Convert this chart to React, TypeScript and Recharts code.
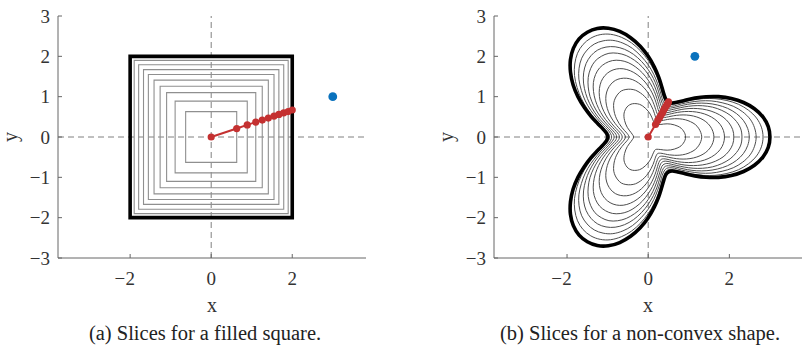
import React from 'react';
import { ScatterChart, Scatter, XAxis, YAxis, ReferenceLine, Label } from 'recharts';

// shared axis ticks
const ticksX = [-2, 0, 2];
const ticksY = [-3, -2, -1, 0, 1, 2, 3];

// (a) square slices: half-widths of the nested squares, outer boundary last
const squareHalfWidths = [0.63, 0.89, 1.1, 1.26, 1.41, 1.55, 1.67, 1.79, 1.9];
const squareBoundaryHalfWidth = 2;
// path from the origin through each slice toward the query point
const squarePathX = [0, 0.63, 0.89, 1.1, 1.26, 1.41, 1.55, 1.67, 1.79, 1.9, 2.0];
const squarePathY = [0, 0.21, 0.3, 0.37, 0.42, 0.47, 0.52, 0.56, 0.6, 0.63, 0.67];
const squareQuery = [{ x: 3, y: 1 }];

// (b) three-lobed shape: radius at these angles (deg) over one half-lobe,
// the rest follows from the shape's mirror / 120deg symmetry
const lobeAngles = [0, 5, 10, 15, 20, 25, 30, 35, 40, 45, 50, 55, 60];
const shapeSliceRadii = [
  [0.92, 0.91, 0.88, 0.84, 0.78, 0.71, 0.64, 0.57, 0.5, 0.44, 0.4, 0.37, 0.36],
  [1.32, 1.3, 1.26, 1.2, 1.11, 1.01, 0.9, 0.79, 0.69, 0.6, 0.53, 0.49, 0.47],
  [1.62, 1.6, 1.55, 1.47, 1.36, 1.23, 1.09, 0.95, 0.82, 0.71, 0.63, 0.58, 0.56],
  [1.88, 1.86, 1.8, 1.7, 1.57, 1.42, 1.26, 1.1, 0.95, 0.82, 0.72, 0.66, 0.64],
  [2.11, 2.09, 2.02, 1.91, 1.76, 1.59, 1.41, 1.23, 1.06, 0.91, 0.8, 0.73, 0.71],
  [2.31, 2.29, 2.21, 2.09, 1.93, 1.75, 1.55, 1.35, 1.16, 1.0, 0.88, 0.8, 0.78],
  [2.49, 2.46, 2.38, 2.25, 2.08, 1.88, 1.67, 1.46, 1.26, 1.08, 0.95, 0.87, 0.84],
  [2.66, 2.63, 2.55, 2.41, 2.23, 2.01, 1.79, 1.56, 1.34, 1.16, 1.01, 0.93, 0.9],
  [2.83, 2.8, 2.71, 2.56, 2.37, 2.14, 1.9, 1.66, 1.43, 1.23, 1.08, 0.98, 0.95],
];
const shapeBoundaryRadii = [3.0, 2.97, 2.87, 2.71, 2.5, 2.26, 2.0, 1.74, 1.5, 1.29, 1.13, 1.03, 1.0];
const shapePathX = [0, 0.18, 0.235, 0.28, 0.32, 0.355, 0.39, 0.42, 0.45, 0.475, 0.5];
const shapePathY = [0, 0.31, 0.41, 0.48, 0.55, 0.61, 0.68, 0.73, 0.78, 0.82, 0.87];
const shapeQuery = [{ x: 1.15, y: 2.0 }];

const captions = ['(a) Slices for a filled square.', '(b) Slices for a non-convex shape.'];

const RED = '#c43131';
const BLUE = '#0a72bd';
const SERIF = "'Liberation Serif', 'DejaVu Serif', serif";

const zip = (xs: number[], ys: number[]) => xs.map((x, i) => ({ x, y: ys[i] }));

const squarePoints = (s: number) => [
  { x: -s, y: -s },
  { x: s, y: -s },
  { x: s, y: s },
  { x: -s, y: s },
];

const contourPoints = (radii: number[]) => {
  const pts: { x: number; y: number }[] = [];
  for (let a = 0; a < 360; a += 5) {
    let phi = a % 120;
    if (phi > 60) phi = 120 - phi;
    const r = radii[lobeAngles.indexOf(phi)];
    const t = (a * Math.PI) / 180;
    pts.push({ x: r * Math.cos(t), y: r * Math.sin(t) });
  }
  return pts;
};

// closed Catmull-Rom spline, used as a d3 curve factory
const smoothClosed: any = (context: any) => {
  let pts: number[][] = [];
  return {
    areaStart() {},
    areaEnd() {},
    lineStart() {
      pts = [];
    },
    point(x: number, y: number) {
      pts.push([+x, +y]);
    },
    lineEnd() {
      const n = pts.length;
      if (n < 3) return;
      context.moveTo(pts[0][0], pts[0][1]);
      for (let i = 0; i < n; i++) {
        const p0 = pts[(i + n - 1) % n];
        const p1 = pts[i];
        const p2 = pts[(i + 1) % n];
        const p3 = pts[(i + 2) % n];
        context.bezierCurveTo(
          p1[0] + (p2[0] - p0[0]) / 6,
          p1[1] + (p2[1] - p0[1]) / 6,
          p2[0] - (p3[0] - p1[0]) / 6,
          p2[1] - (p3[1] - p1[1]) / 6,
          p2[0],
          p2[1]
        );
      }
      context.closePath();
    },
  };
};

const noDot = () => <g />;
const redDot = (p: any) => <circle cx={p.cx} cy={p.cy} r={3.6} fill={RED} />;
const blueDot = (p: any) => <circle cx={p.cx} cy={p.cy} r={4.4} fill={BLUE} />;

const tickStyle = { fontFamily: SERIF, fontSize: 19, fill: '#333' };

const XTick = (props: any) => {
  const { x, y, payload } = props;
  const v = payload.value;
  return (
    <g>
      <text x={x} y={y} dy="0.71em" textAnchor="middle" style={tickStyle}>
        {Math.abs(v)}
      </text>
      {v < 0 && (
        <text x={x - 5} y={y} dy="0.71em" textAnchor="end" style={tickStyle}>
          −
        </text>
      )}
    </g>
  );
};

const fmtY = (v: number) => (v < 0 ? `−${-v}` : `${v}`);

const YLabel = (props: any) => {
  const { viewBox } = props;
  const cx = viewBox.x - 8;
  const cy = viewBox.y + viewBox.height / 2;
  return (
    <text
      x={cx}
      y={cy}
      transform={`rotate(-90 ${cx} ${cy})`}
      textAnchor="middle"
      dominantBaseline="central"
      style={{ fontFamily: SERIF, fontSize: 20, fill: '#333' }}
    >
      y
    </text>
  );
};

interface PanelProps {
  left: number;
  marginLeft: number;
  marginRight: number;
  domainX: [number, number];
  children: React.ReactNode;
}

const Panel = ({ left, marginLeft, marginRight, domainX, children }: PanelProps) => (
  <div style={{ position: 'absolute', left, top: 0 }}>
    <ScatterChart
      width={400}
      height={320}
      margin={{ top: 16, right: marginRight, bottom: 32, left: marginLeft }}
    >
      <XAxis
        type="number"
        dataKey="x"
        domain={domainX}
        ticks={ticksX}
        height={30}
        stroke="#666"
        tickSize={-4}
        tickMargin={18}
        tick={<XTick />}
        allowDataOverflow
      >
        <Label
          value="x"
          position="bottom"
          offset={10}
          style={{ fontFamily: SERIF, fontSize: 20, fill: '#333' }}
        />
      </XAxis>
      <YAxis
        type="number"
        dataKey="y"
        domain={[-3, 3]}
        ticks={ticksY}
        width={40}
        stroke="#666"
        tickSize={-4}
        tickMargin={12}
        tickFormatter={fmtY}
        tick={tickStyle}
        allowDataOverflow
      >
        <Label content={<YLabel />} />
      </YAxis>
      <ReferenceLine x={0} stroke="#808080" strokeDasharray="6 4" />
      <ReferenceLine y={0} stroke="#808080" strokeDasharray="6 4" />
      {children}
    </ScatterChart>
  </div>
);

export default function App() {
  return (
    <div
      style={{
        position: 'absolute',
        left: 0,
        top: 0,
        width: 803,
        height: 355,
        background: '#fff',
        overflow: 'hidden',
      }}
    >
      <Panel left={0} marginLeft={18} marginRight={34} domainX={[-3.78, 3.82]}>
        {squareHalfWidths.map((s, i) => (
          <Scatter
            key={`sq-${i}`}
            data={squarePoints(s)}
            line={{ stroke: '#8f8f8f', strokeWidth: 1.1 }}
            lineJointType="linearClosed"
            shape={noDot}
            isAnimationActive={false}
          />
        ))}
        <Scatter
          data={squarePoints(squareBoundaryHalfWidth)}
          line={{ stroke: '#000', strokeWidth: 3.6 }}
          lineJointType="linearClosed"
          shape={noDot}
          isAnimationActive={false}
        />
        <Scatter
          data={zip(squarePathX, squarePathY)}
          line={{ stroke: RED, strokeWidth: 2 }}
          shape={redDot}
          isAnimationActive={false}
        />
        <Scatter data={squareQuery} shape={blueDot} isAnimationActive={false} />
      </Panel>

      <Panel left={403} marginLeft={51} marginRight={1} domainX={[-3.8, 3.79]}>
        {shapeSliceRadii.map((radii, i) => (
          <Scatter
            key={`sl-${i}`}
            data={contourPoints(radii)}
            line={{ stroke: '#4d4d4d', strokeWidth: 1 }}
            lineJointType={smoothClosed}
            shape={noDot}
            isAnimationActive={false}
          />
        ))}
        <Scatter
          data={contourPoints(shapeBoundaryRadii)}
          line={{ stroke: '#000', strokeWidth: 3.6 }}
          lineJointType={smoothClosed}
          shape={noDot}
          isAnimationActive={false}
        />
        <Scatter
          data={zip(shapePathX, shapePathY)}
          line={{ stroke: RED, strokeWidth: 2 }}
          shape={redDot}
          isAnimationActive={false}
        />
        <Scatter data={shapeQuery} shape={blueDot} isAnimationActive={false} />
      </Panel>

      {captions.map((c, i) => (
        <div
          key={c}
          style={{
            position: 'absolute',
            left: i === 0 ? 5 : 440,
            width: 400,
            top: 322,
            textAlign: 'center',
            fontFamily: SERIF,
            fontSize: 20.5,
            color: '#222',
            lineHeight: '22px',
            whiteSpace: 'nowrap',
          }}
        >
          {c}
        </div>
      ))}
    </div>
  );
}
